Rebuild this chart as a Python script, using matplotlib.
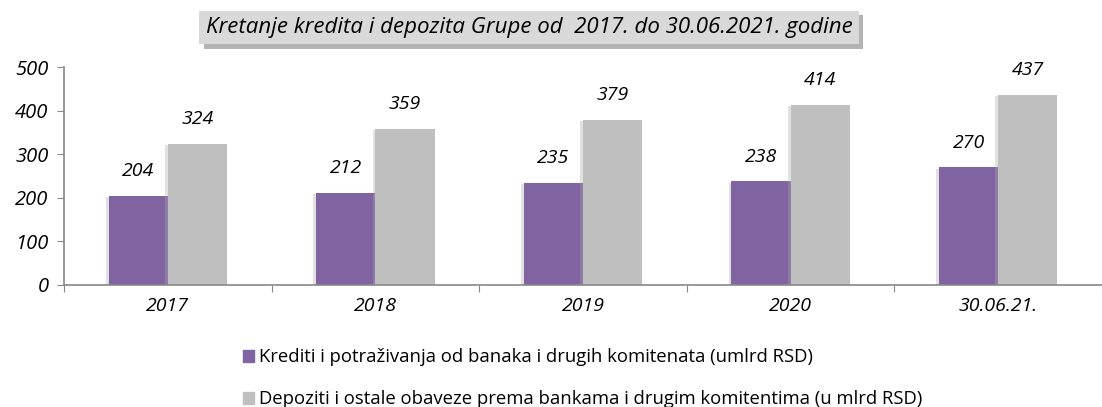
import numpy as np
import matplotlib
matplotlib.use("Agg")
from matplotlib import pyplot as plt
from matplotlib import patheffects as pe
from matplotlib.patches import Patch

kategorije = ['2017', '2018', '2019', '2020', '30.06.21.']
krediti = [204, 212, 235, 238, 270]
depoziti = [324, 359, 379, 414, 437]
naziv_krediti = 'Krediti i potraživanja od banaka i drugih komitenata (umlrd RSD)'
naziv_depoziti = 'Depoziti i ostale obaveze prema bankama i drugim komitentima (u mlrd RSD)'
naslov = 'Kretanje kredita i depozita Grupe od  2017. do 30.06.2021. godine'

ljubicasta = '#8064a2'
siva = '#bfbfbf'
plt.rcParams['font.family'] = ['Open Sans', 'DejaVu Sans']

fig = plt.figure(figsize=(11.02, 4.07), dpi=100)
ax = fig.add_axes([0.058, 0.30, 0.942, 0.535])

x = np.arange(len(kategorije))
w = 0.285
senka = [pe.SimplePatchShadow(offset=(-2, -1), shadow_rgbFace='#aaaaaa', alpha=0.35), pe.Normal()]
b1 = ax.bar(x - w / 2, krediti, w, color=ljubicasta, path_effects=senka, zorder=2)
b2 = ax.bar(x + w / 2, depoziti, w, color=siva, path_effects=senka, zorder=2)
for rect, v in zip(list(b1) + list(b2), krediti + depoziti):
    ax.text(rect.get_x() + rect.get_width() / 2, v + 36, str(v), ha='center', va='bottom',
            fontsize=14, style='italic')

ax.set_xlim(-0.5, len(kategorije) - 0.5)
ax.set_ylim(0, 500)
ax.set_yticks(range(0, 501, 100))
ax.set_yticklabels([str(t) for t in range(0, 501, 100)], fontsize=14.5, style='italic')
ax.set_xticks(np.arange(-0.5, len(kategorije) - 0.4, 1))
ax.set_xticklabels([])
ax.set_xticks(x, minor=True)
ax.set_xticklabels(kategorije, minor=True, fontsize=14, style='italic')
ax.tick_params(axis='x', which='minor', length=0, pad=9)
ax.tick_params(axis='x', which='major', length=5, color='#888888', direction='out')
ax.tick_params(axis='y', length=5, color='#888888', direction='out', pad=6)
for s in ['top', 'right']:
    ax.spines[s].set_visible(False)
for s in ['left', 'bottom']:
    ax.spines[s].set_color('#888888')
    ax.spines[s].set_linewidth(1.2)

fig.text(0.48, 0.932, naslov, ha='center', va='center', fontsize=16, style='italic',
         bbox=dict(boxstyle='square,pad=0.28', facecolor='#d9d9d9', edgecolor='none',
                   path_effects=[pe.SimplePatchShadow(offset=(3, -3), alpha=0.4), pe.Normal()]))

ruke = [Patch(color=ljubicasta, label=naziv_krediti), Patch(color=siva, label=naziv_depoziti)]
fig.legend(handles=ruke, loc='upper left', bbox_to_anchor=(0.205, 0.185), frameon=False,
           fontsize=13.3, handlelength=0.6, handleheight=0.6, handletextpad=0.3, labelspacing=1.3)

fig.savefig('out.png', dpi=100)
